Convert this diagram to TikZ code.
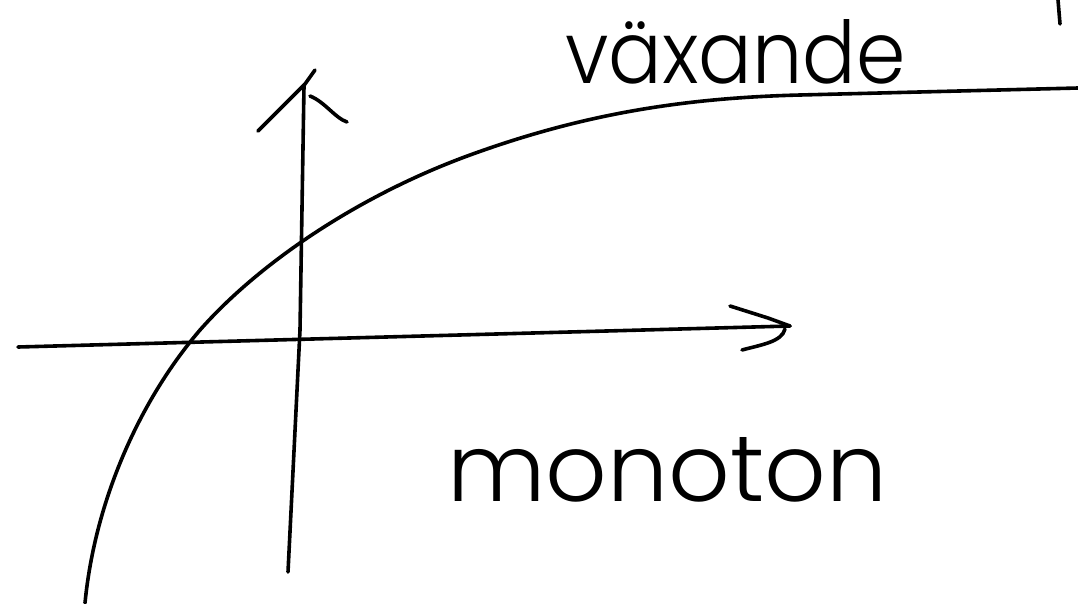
\documentclass[tikz,border=0pt]{standalone}
\usepackage{graphicx}
\usepackage{fontspec}
\IfFontExistsTF{Poppins Light}{\newfontfamily\handfont{Poppins Light}}{%
 \IfFontExistsTF{Poppins Thin}{\newfontfamily\handfont{Poppins Thin}}{%
  \IfFontExistsTF{Open Sans Light}{\newfontfamily\handfont{Open Sans Light}}{%
    \newcommand\handfont{\sffamily}}}}
\begin{document}
\begin{tikzpicture}[x=1pt,y=-1pt,
  pen/.style={line width=3.6pt,line cap=round,line join=round,black},
  hand/.style={inner sep=0pt,anchor=south west}]
\useasboundingbox (0,0) rectangle (1078,603);
\fill[white] (0,0) rectangle (1078,603);
% x-axis
\coordinate (xl) at (18,347);
\coordinate (xr) at (790,326);
\draw[pen] (xl) -- (xr);
\draw[pen] (730,306) -- (768,318) -- (xr);
\draw[pen] (742,350) .. controls (760,345) and (782,342) .. (785,329);
% y-axis
\coordinate (yb) at (288,572);
\coordinate (yt) at (304,86);
\draw[pen] (yb) -- (300,330) -- (yt);
\draw[pen] (258,131) -- (305,84) -- (315,70);
\draw[pen] (310,96) .. controls (325,102) and (335,118) .. (347,122);
% curve
\draw[pen] (85,603) .. controls (95,500) and (140,400) .. (200,330)
  .. controls (260,262) and (360,195) .. (470,155)
  .. controls (580,115) and (680,98) .. (800,95)
  -- (1078,88);
% partial mark top right
\draw[pen] (1058,0) -- (1060,24);
% labels
\node[hand] (vx) at (565,84) {\resizebox{340pt}{64pt}{\handfont växande}};
\node[hand] (mo) at (447,502) {\resizebox{440pt}{64pt}{\handfont monoton}};
\end{tikzpicture}
\end{document}
